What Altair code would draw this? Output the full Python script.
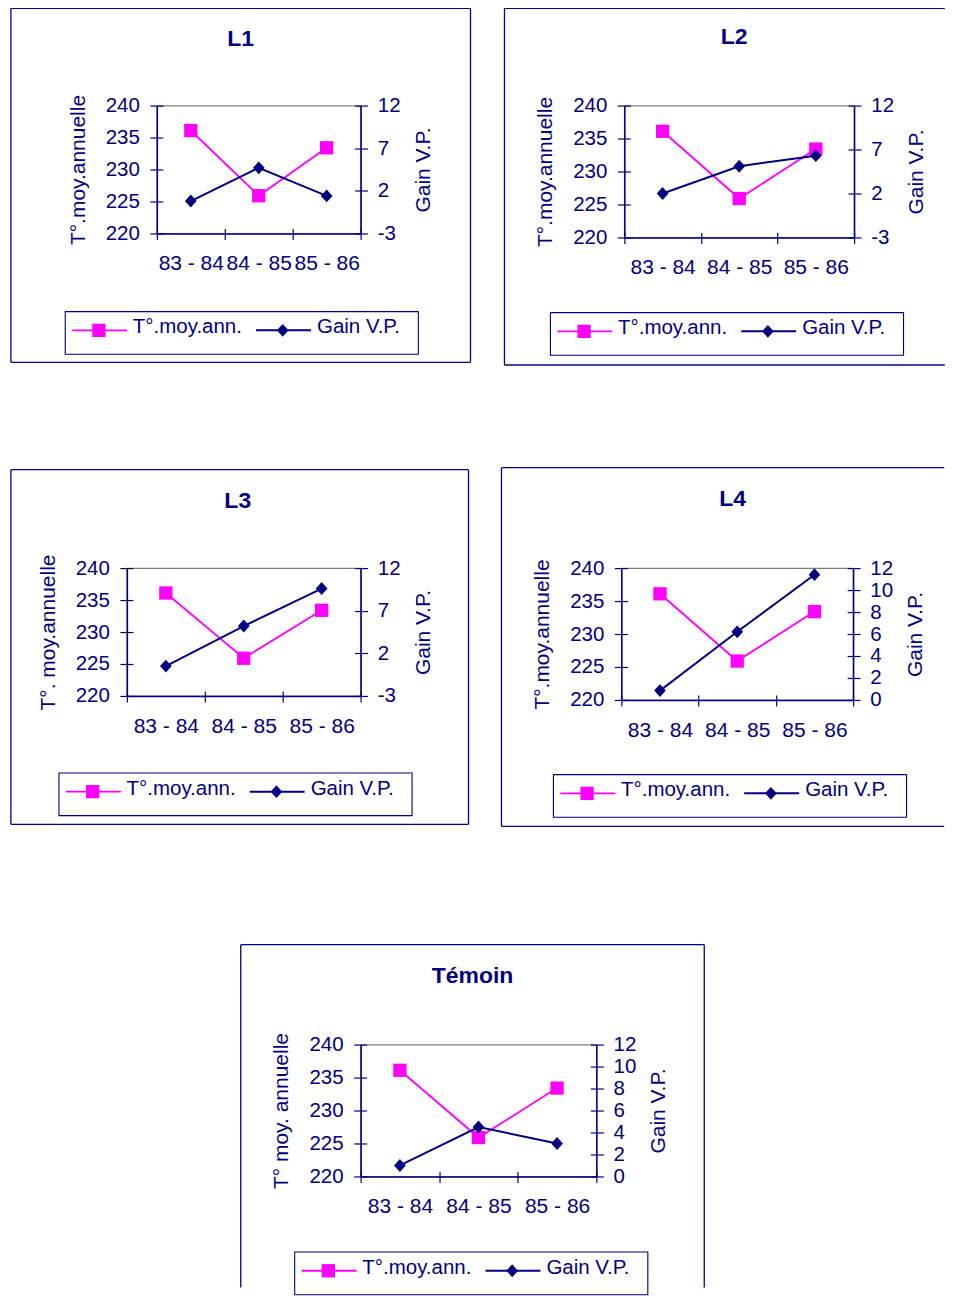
import altair as alt
import pandas as pd

# ---------------- data ----------------
periods = ["83 - 84", "84 - 85", "85 - 86"]
temp_values = [236.1, 225.9, 233.4]
gain_L1 = [0.8, 4.7, 1.4]
gain_L2 = [2.0, 5.1, 6.3]
gain_L3 = [0.5, 5.2, 9.6]
gain_L4 = [0.85, 6.2, 11.4]
gain_T = [1.0, 4.5, 3.0]

panel_titles = ["L1", "L2", "L3", "L4", "Témoin"]
y_titles = ["T°.moy.annuelle", "T°.moy.annuelle", "T°. moy.annuelle",
            "T°.moy.annuelle", "T° moy. annuelle"]
gain_title = "Gain V.P."
legend_labels = ["T°.moy.ann.", "Gain V.P."]
temp_ticks = [220, 225, 230, 235, 240]
gain_ticks_a = [-3, 2, 7, 12]
gain_ticks_b = [0, 2, 4, 6, 8, 10, 12]

# ---------------- styles ----------------
NAVY = "#000080"
PINK = "#FF00FF"
GRAY = "#808080"
FONT = "Liberation Sans"
DIAMOND = "M0,-1.1L1,0L0,1.1L-1,0Z"

Y1, Y2, Y3 = 106.0, 567.2, 1042.3
RIGHT = 943

# layout (page pixel positions, decoration only)
PANELS = [
    dict(gains=gain_L1, gdom=[-3, 12], gticks=gain_ticks_a,
         cell=(9, 8, 490, 416), plot=(155.7, Y1, 204, 128),
         box=(9.6, 8.6, 469.7, 363.0), title=(239.5, 46.5), legend=(64.0, 312.3)),
    dict(gains=gain_L2, gdom=[-3, 12], gticks=gain_ticks_a,
         cell=(490, 8, RIGHT, 416), plot=(621.7, Y1, 230, 132),
         box=(501.7, 8.6, None, 365.7), title=(731.7, 44.0), legend=(547.7, 313.3)),
    dict(gains=gain_L3, gdom=[-3, 12], gticks=gain_ticks_a,
         cell=(9, 416, 490, 890), plot=(125.7, Y2, 234, 128),
         box=(9.6, 468.7, 467.7, 823.7), title=(236.7, 506.7), legend=(57.7, 772.3)),
    dict(gains=gain_L4, gdom=[0, 12], gticks=gain_ticks_b,
         cell=(490, 416, RIGHT, 890), plot=(619.3, Y2, 232, 132),
         box=(499.3, 466.7, None, 825.7), title=(730.7, 505.0), legend=(551.3, 774.0)),
    dict(gains=gain_T, gdom=[0, 12], gticks=gain_ticks_b,
         cell=(9, 890, RIGHT, 1286), plot=(360.0, Y3, 236, 132),
         box=(240.0, 942.3, 704.0, None), title=(472.0, 981.0), legend=(294.0, 1250.0)),
]


def one():
    return alt.Data(values=[{"k": 0}])


def make_panel(i, p):
    px, py, W, H = p["plot"]
    df = pd.DataFrame({"period": periods, "temp": temp_values, "gain": p["gains"]})
    base = alt.Chart(df)
    xscale = alt.Scale(type="band", paddingInner=0, paddingOuter=0)

    x_main = alt.X("period:N", sort=periods, scale=xscale, bandPosition=0.5, title=None,
                   axis=alt.Axis(orient="bottom", tickBand="extent", tickSize=6, tickColor=NAVY,
                                 tickWidth=1.2, domainColor=NAVY, domainWidth=1.5,
                                 labelColor=NAVY, labelFont=FONT, labelFontSize=21,
                                 labelPadding=13.5, labelAngle=0, labelOverlap=False,
                                 grid=False))
    x_inner = alt.X("period:N", sort=periods, scale=xscale, bandPosition=0.5, title=None,
                    axis=alt.Axis(orient="bottom", tickBand="extent", offset=-5, tickSize=5,
                                  tickColor=NAVY, tickWidth=1.2, domain=False, labels=False,
                                  grid=False))
    x_none = alt.X("period:N", sort=periods, scale=xscale, bandPosition=0.5, title=None,
                   axis=None)

    tscale = alt.Scale(domain=[220, 240], nice=False, zero=False)
    gscale = alt.Scale(domain=p["gdom"], nice=False, zero=False)

    y_temp_main = alt.Y("temp:Q", scale=tscale,
                        axis=alt.Axis(orient="left", values=temp_ticks, tickSize=7,
                                      tickColor=NAVY, tickWidth=1.2, domainColor=NAVY,
                                      domainWidth=1.5, labelColor=NAVY, labelFont=FONT,
                                      labelFontSize=20.5, labelPadding=10.5,
                                      labelOverlap=False, grid=False,
                                      labelExpr="'' + datum.value",
                                      title=y_titles[i], titleFont=FONT, titleFontSize=21,
                                      titleFontWeight="normal", titleColor=NAVY,
                                      titlePadding=17))
    y_temp_inner = alt.Y("temp:Q", scale=tscale,
                         axis=alt.Axis(orient="left", values=temp_ticks, offset=-6, tickSize=6,
                                       tickColor=NAVY, tickWidth=1.2, domain=False,
                                       labels=False, grid=False, title=None))
    y_gain_main = alt.Y("gain:Q", scale=gscale,
                        axis=alt.Axis(orient="right", values=p["gticks"], tickSize=7,
                                      tickColor=NAVY, tickWidth=1.2, domainColor=NAVY,
                                      domainWidth=1.5, labelColor=NAVY, labelFont=FONT,
                                      labelFontSize=20.5, labelPadding=9.7,
                                      labelOverlap=False, grid=False,
                                      labelExpr="'' + datum.value",
                                      title=gain_title, titleFont=FONT, titleFontSize=21,
                                      titleFontWeight="normal", titleColor=NAVY,
                                      titleAngle=270, titleBaseline="top",
                                      titleAlign="center", titlePadding=12))
    y_gain_inner = alt.Y("gain:Q", scale=gscale,
                         axis=alt.Axis(orient="right", values=p["gticks"], offset=-6,
                                       tickSize=6, tickColor=NAVY, tickWidth=1.2,
                                       domain=False, labels=False, grid=False, title=None))

    temp_line = base.mark_line(color=PINK, strokeWidth=1.8).encode(x=x_main, y=y_temp_main)
    temp_pts = base.mark_point(shape="square", size=177, filled=True, color=PINK,
                               opacity=1).encode(x=x_inner, y=y_temp_inner)
    gain_line = base.mark_line(color=NAVY, strokeWidth=2).encode(x=x_none, y=y_gain_main)
    gain_pts = base.mark_point(shape=DIAMOND, size=137, filled=True, color=NAVY,
                               opacity=1).encode(x=x_none, y=y_gain_inner)

    def V(v, o):
        return alt.value(round(v - o, 2))

    decos = []
    # invisible cell spacer (sets the panel's footprint in the page)
    cx0, cy0, cx1, cy1 = p["cell"]
    decos.append(alt.Chart(one()).mark_rect(opacity=0).encode(
        x=V(cx0, px), x2=V(cx1, px), y=V(cy0, py), y2=V(cy1, py)))
    # panel border
    bx0, by0, bx1, by1 = p["box"]
    rx1 = bx1 if bx1 is not None else cx1 - 0.5
    ry1 = by1 if by1 is not None else cy1 - 0.5

    def hrule(xa, xb, y):
        return alt.Chart(one()).mark_rule(color=NAVY, strokeWidth=1.3).encode(
            x=V(xa, px), x2=V(xb, px), y=V(y, py))

    def vrule(x, ya, yb):
        return alt.Chart(one()).mark_rule(color=NAVY, strokeWidth=1.3).encode(
            x=V(x, px), y=V(ya, py), y2=V(yb, py))

    decos.append(hrule(bx0, rx1, by0))
    decos.append(vrule(bx0, by0, ry1))
    if by1 is not None:
        decos.append(hrule(bx0, rx1, by1))
    if bx1 is not None:
        decos.append(vrule(bx1, by0, ry1))
    # title
    tx, ty = p["title"]
    decos.append(alt.Chart(one()).mark_text(font=FONT, fontSize=23, fontWeight="bold",
                                            color=NAVY, align="center",
                                            baseline="alphabetic").encode(
        x=V(tx, px), y=V(ty, py), text=alt.value(panel_titles[i])))
    # legend
    lx, ly = p["legend"]
    decos.append(alt.Chart(one()).mark_rect(fill="white", fillOpacity=0, stroke=NAVY,
                                            strokeWidth=1.1).encode(
        x=V(lx, px), x2=V(lx + 353.5, px), y=V(ly, py), y2=V(ly + 42.7, py)))
    sy = ly + 18.7
    decos.append(alt.Chart(one()).mark_rule(color=PINK, strokeWidth=1.8).encode(
        x=V(lx + 7, px), x2=V(lx + 62, px), y=V(sy, py)))
    decos.append(alt.Chart(one()).mark_point(shape="square", size=177, filled=True,
                                             color=PINK, opacity=1).encode(
        x=V(lx + 33.7, px), y=V(sy, py)))
    decos.append(alt.Chart(one()).mark_rule(color=NAVY, strokeWidth=2).encode(
        x=V(lx + 191, px), x2=V(lx + 246, px), y=V(sy, py)))
    decos.append(alt.Chart(one()).mark_point(shape=DIAMOND, size=137, filled=True,
                                             color=NAVY, opacity=1).encode(
        x=V(lx + 217.7, px), y=V(sy, py)))
    for lab, off in zip(legend_labels, [67.7, 252.0]):
        decos.append(alt.Chart(one()).mark_text(font=FONT, fontSize=20.5, color=NAVY,
                                                align="left", baseline="alphabetic").encode(
            x=V(lx + off, px), y=V(ly + 21.7, py), text=alt.value(lab)))

    layer = alt.layer(temp_line, temp_pts, gain_line, gain_pts, *decos).resolve_scale(
        y="independent").resolve_axis(x="independent", y="independent").properties(
        width=W, height=H)
    return layer


def anchor():
    # 1x1 invisible chart that pins every row to the page's left edge
    return alt.Chart(one()).mark_rect(opacity=0).encode(
        x=alt.value(0), x2=alt.value(1), y=alt.value(0), y2=alt.value(1)
    ).properties(width=1, height=1, view=alt.ViewBackground(stroke="transparent"))


panels = [make_panel(i, p) for i, p in enumerate(PANELS)]

row1 = alt.hconcat(anchor(), panels[0], panels[1], spacing=0)
row2 = alt.hconcat(anchor(), panels[2], panels[3], spacing=0)
row3 = alt.hconcat(anchor(), panels[4], spacing=0)
chart = alt.vconcat(row1, row2, row3, spacing=0).properties(
    padding={"left": -2, "top": -2, "right": 0, "bottom": 0}, background="white"
).configure_view(stroke=GRAY, strokeWidth=1.3)

chart.save("out.html", embed_options={"renderer": "svg", "actions": False})
